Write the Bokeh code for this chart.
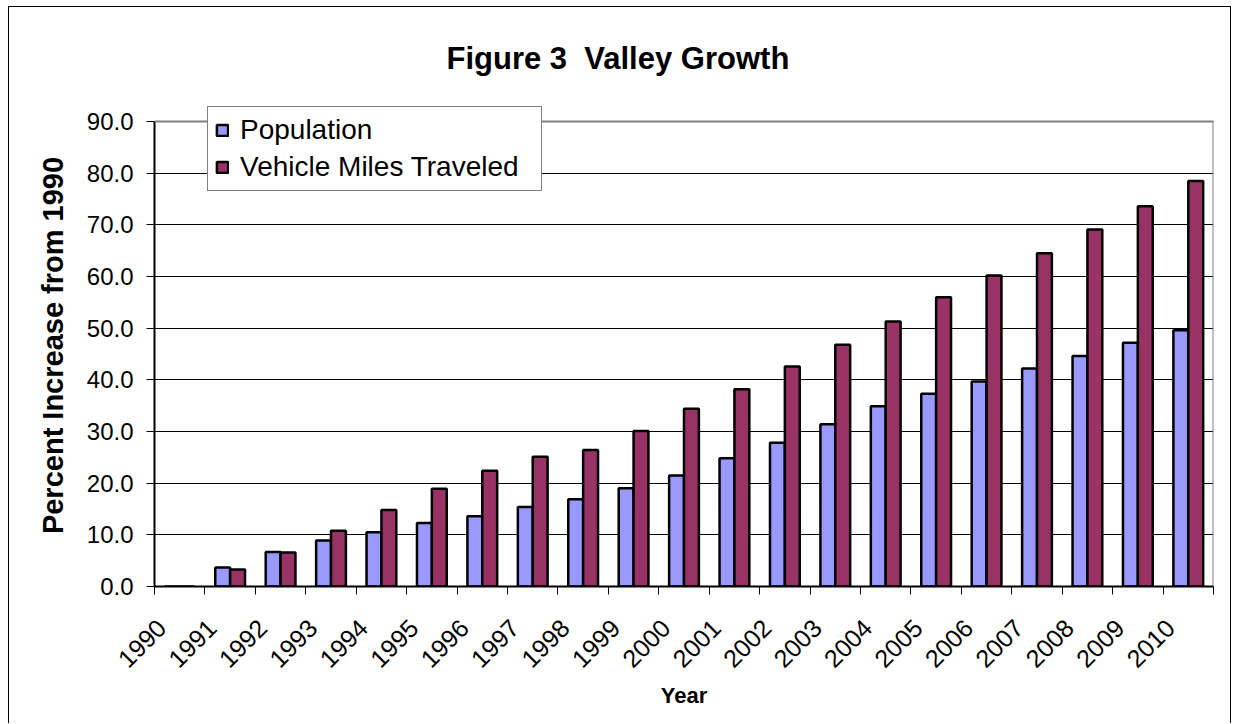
import math
from bokeh.plotting import figure
from bokeh.models import Range1d, FixedTicker, NumeralTickFormatter, Legend, LegendItem, ColumnDataSource, Span
from bokeh.embed import file_html
from bokeh.resources import INLINE

# ---- data ----
years = [str(y) for y in range(1990, 2011)]
population = [0.0, 3.7, 6.7, 8.9, 10.5, 12.3, 13.6, 15.4, 16.9, 19.0, 21.5,
              24.8, 27.8, 31.4, 34.9, 37.3, 39.7, 42.2, 44.6, 47.2, 49.6]
vmt = [0.0, 3.3, 6.6, 10.8, 14.8, 18.9, 22.4, 25.1, 26.4, 30.1, 34.4,
       38.2, 42.6, 46.8, 51.3, 56.0, 60.2, 64.5, 69.1, 73.6, 78.5]
y_ticks = [0, 10, 20, 30, 40, 50, 60, 70, 80, 90]
y_max = 90

FONT = "Liberation Sans"
POP_COLOR = "#9999FF"
VMT_COLOR = "#993366"

n = len(years)
centers = [i + 0.5 for i in range(n)]
bw = 0.295
label_shift = 0.36

src = ColumnDataSource(dict(
    year=years,
    pop_x=[c - bw / 2 for c in centers],
    vmt_x=[c + bw / 2 for c in centers],
    pop=population,
    vmt=vmt,
))

# frame spans from y=0 up a bit beyond 90 so the legend can sit above the 90 line
frame_h = 482.0
y_top = y_max * frame_h / 465.0

p = figure(width=1223, height=717, output_backend="svg", toolbar_location=None,
           x_range=Range1d(0, n), y_range=Range1d(0, y_top),
           min_border_left=145, min_border_right=19, min_border_top=97, min_border_bottom=138)
p.margin = (6, 0, 0, 8)
p.styles = {"border-top": "1px solid black", "border-left": "1px solid black",
            "border-right": "1px solid black"}

r_pop = p.vbar(x="pop_x", top="pop", bottom=0, width=bw, source=src,
               fill_color=POP_COLOR, line_color="black", line_width=2.5)
r_vmt = p.vbar(x="vmt_x", top="vmt", bottom=0, width=bw, source=src,
               fill_color=VMT_COLOR, line_color="black", line_width=2.5)

# title
p.title.text = "Figure 3\u00a0\u00a0Valley Growth"
p.title.text_font = FONT
p.title.text_font_size = "31px"
p.title.text_font_style = "bold"
p.title.text_color = "black"
p.title.align = "left"
p.title.offset = 292
p.title.standoff = 58

# frame
p.outline_line_color = None
p.background_fill_color = "white"
p.border_fill_color = "white"

# grid
p.xgrid.grid_line_color = None
p.ygrid.ticker = FixedTicker(ticks=y_ticks)
p.ygrid.grid_line_color = "#000000"
p.ygrid.grid_line_width = 1

# plot-area border (top and right, gray)
p.add_layout(Span(location=y_max, dimension="width", line_color="#808080", line_width=2))
p.segment(x0=[n], y0=[0], x1=[n], y1=[y_max], line_color="#808080", line_width=2)

# y axis
p.yaxis.ticker = FixedTicker(ticks=y_ticks)
p.yaxis.bounds = (0, y_max)
p.yaxis.formatter = NumeralTickFormatter(format="0.0")
p.yaxis.axis_label = "Percent Increase from 1990"
p.yaxis.axis_label_text_font = FONT
p.yaxis.axis_label_text_font_style = "bold"
p.yaxis.axis_label_text_font_size = "29px"
p.yaxis.axis_label_text_color = "black"
p.yaxis.axis_label_standoff = 15
p.yaxis.major_label_text_font = FONT
p.yaxis.major_label_text_font_size = "24px"
p.yaxis.major_label_text_color = "black"
p.yaxis.major_label_standoff = 13
p.yaxis.major_tick_out = 8
p.yaxis.major_tick_in = 0
p.yaxis.minor_tick_line_color = None
p.yaxis.axis_line_color = "#000000"
p.yaxis.axis_line_width = 2
p.yaxis.major_tick_line_color = "#000000"

# x axis
major_pos = [c - label_shift for c in centers]
p.xaxis.ticker = FixedTicker(ticks=major_pos, minor_ticks=list(range(n + 1)))
p.xaxis.major_label_overrides = {m: y for m, y in zip(major_pos, years)}
p.xaxis.major_label_orientation = math.pi / 4
p.xaxis.major_label_text_font = FONT
p.xaxis.major_label_text_font_size = "25px"
p.xaxis.major_label_text_color = "black"
p.xaxis.major_label_standoff = 29
p.xaxis.major_tick_line_color = None
p.xaxis.minor_tick_line_color = "#000000"
p.xaxis.minor_tick_out = 8
p.xaxis.minor_tick_in = 0
p.xaxis.axis_line_color = "#000000"
p.xaxis.axis_line_width = 2
p.xaxis.axis_label = "Year"
p.xaxis.axis_label_text_font = FONT
p.xaxis.axis_label_text_font_style = "bold"
p.xaxis.axis_label_text_font_size = "22px"
p.xaxis.axis_label_text_color = "black"
p.xaxis.axis_label_standoff = 4

legend = Legend(items=[LegendItem(label="Population", renderers=[r_pop]),
                       LegendItem(label="Vehicle Miles Traveled", renderers=[r_vmt])],
                location=(53, 395))
legend.label_text_font = FONT
legend.label_text_font_size = "28px"
legend.label_text_color = "black"
legend.glyph_width = 14
legend.glyph_height = 14
legend.label_standoff = 11
legend.label_height = 32
legend.label_width = 294
legend.padding = 7
legend.spacing = 5
legend.margin = 0
legend.border_line_color = "black"
legend.border_line_width = 1
legend.background_fill_color = "white"
legend.background_fill_alpha = 1.0
p.add_layout(legend, "center")

open("out.html", "w").write(file_html(p, INLINE))
